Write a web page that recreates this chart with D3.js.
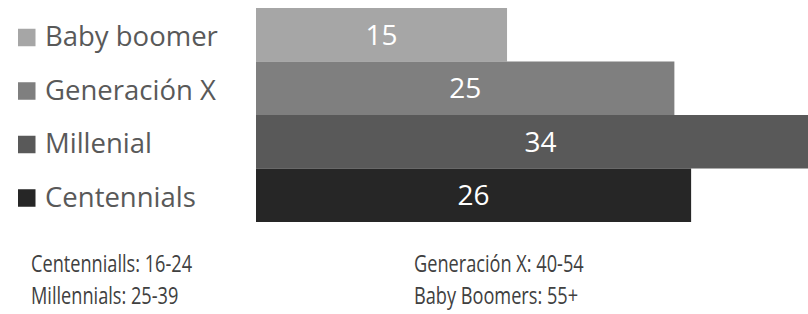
<!DOCTYPE html>
<html>
<head>
<meta charset="utf-8">
<script src="https://cdn.jsdelivr.net/npm/d3@7"></script>
<style>
  body { margin: 0; background: #fff; }
  svg { display: block; }
</style>
</head>
<body>
<svg id="chart" width="808" height="314"></svg>
<script>
var categories = ["Baby boomer", "Generación X", "Millenial", "Centennials"];
var values = [15, 25, 34, 26];
var colors = ["#a6a6a6", "#7f7f7f", "#595959", "#262626"];
var notesLeft = ["Centennialls: 16-24", "Millennials: 25-39"];
var notesRight = ["Generación X: 40-54", "Baby Boomers: 55+"];

var svg = d3.select('#chart');
var font = "'Open Sans', 'Noto Sans', sans-serif";

var x = d3.scaleLinear()
  .domain([0, d3.max(values)])
  .range([256, 825]);

var y = d3.scaleBand()
  .domain(categories)
  .range([8, 222])
  .padding(0);

var color = d3.scaleOrdinal().domain(categories).range(colors);

var rows = categories.map((c, i) => ({ name: c, value: values[i] }));

// bars
svg.selectAll('.bar')
  .data(rows)
  .enter()
  .append('rect')
    .classed('bar', true)
    .attr('x', x(0))
    .attr('y', d => y(d.name))
    .attr('width', d => x(d.value) - x(0))
    .attr('height', y.bandwidth())
    .attr('fill', d => color(d.name));

// value labels in the middle of each bar
svg.selectAll('.val')
  .data(rows)
  .enter()
  .append('text')
    .classed('val', true)
    .attr('x', d => (x(0) + x(d.value)) / 2)
    .attr('y', d => y(d.name) + y.bandwidth() / 2)
    .attr('dy', '0.357em')
    .attr('text-anchor', 'middle')
    .attr('fill', '#fff')
    .style('font-family', font)
    .style('font-size', '28px')
    .text(d => d.value);

// legend on the left
var legend = svg.selectAll('.legend')
  .data(rows)
  .enter()
  .append('g')
    .classed('legend', true)
    .attr('transform', d => 'translate(18,' + (y(d.name) + y.bandwidth() / 2 + 2.5) + ')');

legend.append('rect')
  .attr('x', 0)
  .attr('y', -8.5)
  .attr('width', 17.5)
  .attr('height', 17.5)
  .attr('fill', d => color(d.name));

legend.append('text')
  .attr('x', 27)
  .attr('y', 9)
  .attr('fill', '#595959')
  .style('font-family', font)
  .style('font-size', '27.5px')
  .text(d => d.name);

// age notes under the chart (narrowed to mimic the light condensed face)
[[notesLeft, 31], [notesRight, 414]].forEach(([list, left]) => {
  svg.append('g')
    .attr('transform', 'translate(' + left + ',0) scale(0.79,1)')
    .selectAll('text')
    .data(list)
    .enter()
    .append('text')
      .attr('x', 0)
      .attr('y', (d, i) => 272.5 + i * 31.5)
      .attr('fill', '#404040')
      .style('font-family', font)
      .style('font-size', '23px')
      .text(d => d);
});
</script>
</body>
</html>
